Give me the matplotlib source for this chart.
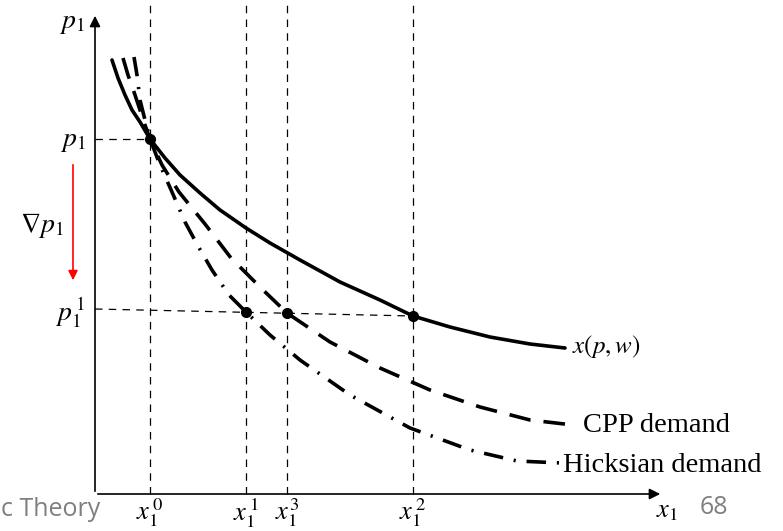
import matplotlib.pyplot as plt

plt.rcParams['mathtext.fontset'] = 'stix'
plt.rcParams['font.family'] = ['Liberation Serif', 'DejaVu Serif']

# Marshallian demand x(p,w)
walras_x = [17, 23, 30, 37, 45, 55, 70, 85, 105, 125, 151, 175, 205, 245, 285, 318, 355, 395, 435, 470]
walras_p = [434, 416, 399, 384, 372, 355, 336, 319, 301, 284, 266, 251, 234, 212, 194, 178, 167, 157, 150, 146]

# CPP demand
cpp_x = [28, 33, 39, 45, 50, 55, 67, 84, 110, 136, 167, 192, 235, 285, 335, 385, 435, 478]
cpp_p = [436, 419, 402, 384, 369, 355, 329, 302, 270, 236, 205, 181, 152, 126, 104, 87, 74, 69]

# Hicksian demand
hicks_x = [39, 42, 45, 50, 55, 65, 77, 90, 103, 117, 134, 151, 175, 205, 255, 315, 375, 422, 467]
hicks_p = [437, 419, 394, 374, 355, 329, 302, 272, 248, 224, 199, 182, 159, 134, 99, 66, 44, 33, 31]

# equilibrium points and their labels
point_x = [55, 151, 192, 318]
point_p = [355, 182, 181, 178]
point_labels = [r'$x_1^{\,0}$', r'$x_1^{\,1}$', r'$x_1^{3}$', r'$x_1^{\,2}$']
price_labels = [r'$p_1$', r'$p_1^{\,1}$']


def draw_axes(ax):
    """Axis arrows and guide lines"""
    ax.annotate('', xy=(0, 481), xytext=(0, 0),
                arrowprops=dict(arrowstyle='-|>', color='black', lw=1.2, mutation_scale=16))
    ax.annotate('', xy=(568, 0), xytext=(0, 0),
                arrowprops=dict(arrowstyle='-|>', color='black', lw=1.2, mutation_scale=16))
    for x in point_x:
        ax.plot([x, x], [0, 494], color='black', lw=0.9, ls=(0, (6, 5)))
        # vertical guides go up to the top of the picture
    ax.plot([0, point_x[0]], [point_p[0], point_p[0]], color='black', lw=0.9, ls=(0, (6, 5)))
    ax.plot([0, point_x[3]], [185, point_p[3]], color='black', lw=0.9, ls=(0, (6, 5)))


def draw_labels(ax):
    """Tick-like labels and curve names"""
    ax.text(-23, 471, r'$p_1$', fontsize=20, ha='center', va='center')
    ax.text(-22, 353, price_labels[0], fontsize=20, ha='center', va='center')
    ax.text(-25, 182, price_labels[1], fontsize=20, ha='center', va='center')
    ax.text(-53, 269, r'$\nabla p_1$', fontsize=20, ha='center', va='center')
    ax.annotate('', xy=(-22, 211), xytext=(-22, 332),
                arrowprops=dict(arrowstyle='-|>', color='red', lw=1.2, mutation_scale=14))
    for x, lab in zip(point_x, point_labels):
        ax.text(x, -19, lab, fontsize=19, ha='center', va='center')
        # kept just inside the bottom edge
    ax.text(572, -18, r'$x_1$', fontsize=19, ha='center', va='center')
    ax.text(477, 147, r'$x(p,w)$', fontsize=18, ha='left', va='center')
    ax.text(488, 69, 'CPP demand', fontsize=20.5, ha='left', va='center')
    ax.text(468, 28, 'Hicksian demand', fontsize=20.5, ha='left', va='center')
    ax.text(5, -16, 'c Theory', fontsize=18, ha='right', va='center', color='#7f7f7f', family='Open Sans')
    ax.text(619, -14, '68', fontsize=18, ha='center', va='center', color='#7f7f7f', family='Open Sans')


fig = plt.figure(figsize=(7.83, 5.31), dpi=100)
ax = fig.add_axes([0, 0, 1, 1])
ax.set_xlim(-95, 688)
ax.set_ylim(-37, 494)
ax.axis('off')

draw_axes(ax)
ax.plot(walras_x, walras_p, color='black', lw=2.6, solid_capstyle='round', solid_joinstyle='round')
ax.plot(cpp_x, cpp_p, color='black', lw=2.6, ls=(0, (6, 3.6)))
ax.plot(hicks_x, hicks_p, color='black', lw=2.6, ls=(0, (5.4, 3, 0.6, 3)))
ax.plot(point_x, point_p, 'o', color='black', markersize=7)
draw_labels(ax)

fig.savefig('out.png', dpi=100)
